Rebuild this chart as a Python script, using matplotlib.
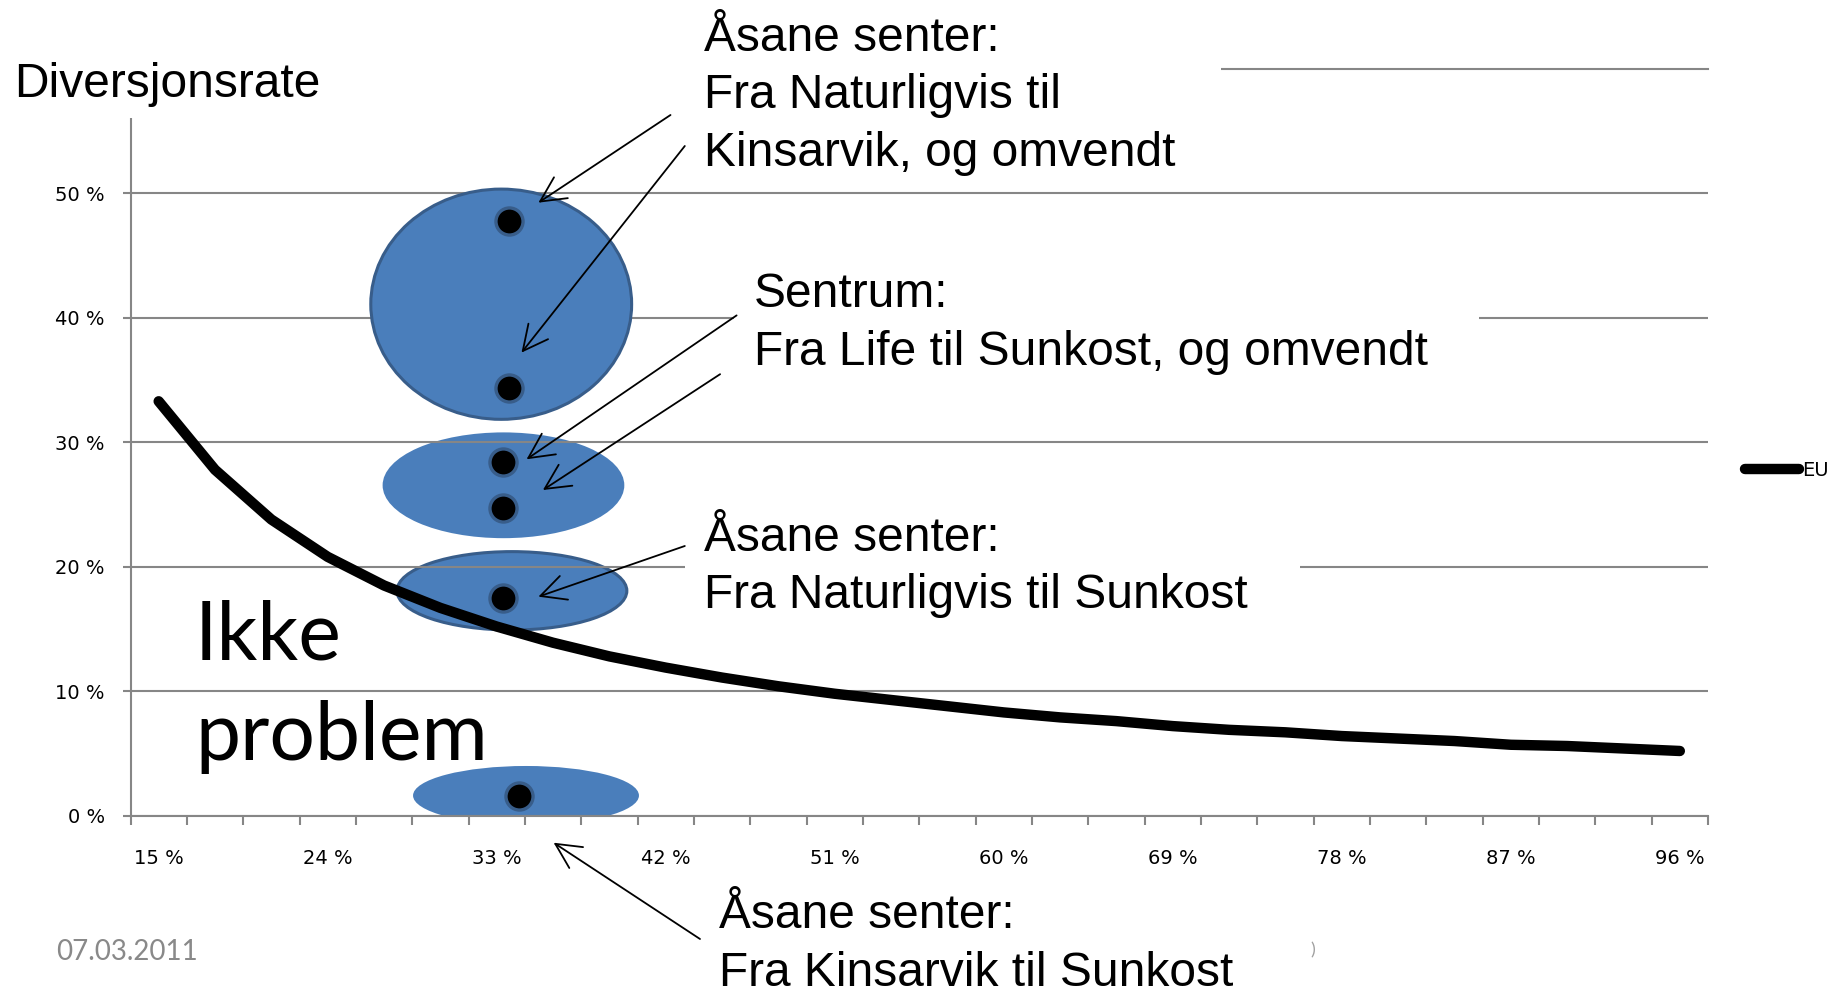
import matplotlib
matplotlib.use("Agg")
import matplotlib.pyplot as plt
from matplotlib.patches import Ellipse, Rectangle, FancyArrowPatch
import numpy as np

W, H = 1845, 988
DPI = 100

# category axis (every 3 percentage points)
categories = list(range(15, 97, 3))
eu_rate = [33.3, 27.8, 23.8, 20.8, 18.5, 16.7, 15.2, 13.9, 12.8, 11.9,
           11.1, 10.4, 9.8, 9.3, 8.8, 8.3, 7.9, 7.6, 7.2, 6.9,
           6.7, 6.4, 6.2, 6.0, 5.7, 5.6, 5.4, 5.2]
label_every = 3
y_ticks = [0, 10, 20, 30, 40, 50]
y_max = 60

# observed store pairs (category position, diversion rate %)
dot_x = [6.21, 6.22, 6.12, 6.12, 6.12, 6.40]
dot_y = [47.8, 34.4, 28.4, 24.75, 17.5, 1.6]

# highlight ellipses: (x centre, y centre %, width in categories, height %)
ellipses = [
    (6.08, 41.1, 4.63, 18.5),
    (6.12, 26.55, 4.29, 8.5),
    (6.27, 18.07, 4.08, 6.3),
    (6.52, 1.62, 4.01, 4.75),
]

fontsize_txt = 34.5
gray = '#868686'
blue = '#4a7ebb'
blue_edge = '#385d8a'


def fx(x):
    return x / W


def fy(y):
    return 1 - y / H


fig = plt.figure(figsize=(W / DPI, H / DPI), dpi=DPI)
ax = fig.add_axes([fx(130.5), fy(815.7), fx(1708) - fx(130.5), fy(69) - fy(815.7)])

xs = np.arange(len(categories))
line, = ax.plot(xs, eu_rate, color='black', linewidth=7.5, solid_capstyle='round',
                solid_joinstyle='round', zorder=2, label='EU')

ax.set_xlim(-0.5, len(categories) - 0.5)
ax.set_ylim(0, y_max)

ax.set_axisbelow(True)
ax.grid(axis='y', color=gray, linewidth=1.5)
ax.axhline(y_max, color=gray, linewidth=1.5, zorder=0.5, clip_on=False)
for s in ['top', 'right']:
    ax.spines[s].set_visible(False)
for s in ['left', 'bottom']:
    ax.spines[s].set_color(gray)
    ax.spines[s].set_linewidth(1.5)

ax.set_yticks(y_ticks)
ax.set_yticklabels([f'{v} %' for v in y_ticks], fontsize=14, family='DejaVu Sans')
ax.tick_params(axis='y', length=6, width=1.5, color=gray, pad=12.5)

ax.set_xticks(xs[::label_every])
ax.set_xticklabels([f'{c} %' for c in categories[::label_every]], fontsize=14, family='DejaVu Sans')
ax.set_xticks(np.arange(-0.5, len(categories), 1), minor=True)
ax.tick_params(axis='x', which='major', length=0, pad=24)
ax.tick_params(axis='x', which='minor', length=6.5, width=1.5, color=gray, direction='out')

for i, (cx, cy, ew, eh) in enumerate(ellipses):
    if i == 0:
        e = Ellipse((cx, cy), ew, eh, facecolor=blue, edgecolor=blue_edge, linewidth=2.2, zorder=3)
    elif i == 2:
        e = Ellipse((cx, cy), ew, eh, facecolor=blue, edgecolor=blue_edge, linewidth=2.2, zorder=0.2)
    else:
        e = Ellipse((cx, cy), ew, eh, facecolor=blue, edgecolor='none', zorder=0.2)
    ax.add_patch(e)

ax.scatter(dot_x, dot_y, s=19.5 ** 2, color='black', edgecolor=blue_edge, linewidth=2.4, zorder=4)

# white text boxes (slide shapes) hiding the gridlines
boxes = [(0, 0, 694, 118), (694, 0, 1221, 178), (734, 255, 1479, 400),
         (685, 505, 1300, 625), (700, 872, 1311, 988)]
for (x0, y0, x1, y1) in boxes:
    ax.add_patch(Rectangle((fx(x0), fy(y1)), fx(x1) - fx(x0), fy(y0) - fy(y1),
                           transform=fig.transFigure, facecolor='white', edgecolor='none',
                           zorder=5, clip_on=False))

texts = [
    ('Diversjonsrate', 14, 97),
    ('Åsane senter:', 704, 50.6),
    ('Fra Naturligvis til', 704, 108.3),
    ('Kinsarvik, og omvendt', 704, 166),
    ('Sentrum:', 754, 307),
    ('Fra Life til Sunkost, og omvendt', 754, 364.8),
    ('Åsane senter:', 704, 550.7),
    ('Fra Naturligvis til Sunkost', 704, 608.4),
    ('Åsane senter:', 719, 928.4),
    ('Fra Kinsarvik til Sunkost', 719, 986),
]
for (s, x, y) in texts:
    ax.text(fx(x), fy(y), s, transform=fig.transFigure, fontsize=fontsize_txt,
            family='Liberation Sans', va='baseline', ha='left', zorder=6)

ax.text(fx(195), fy(660), 'Ikke', transform=fig.transFigure, fontsize=58,
        family='Lato', va='baseline', ha='left', zorder=6)
ax.text(fx(195), fy(760), 'problem', transform=fig.transFigure, fontsize=58,
        family='Lato', va='baseline', ha='left', zorder=6)

ax.text(fx(56), fy(960), '07.03.2011', transform=fig.transFigure, fontsize=20,
        family='Lato', color='#898989', va='baseline', ha='left', zorder=6)
ax.text(fx(1310), fy(955), ')', transform=fig.transFigure, fontsize=13,
        family='Lato', color='#a0a0a0', va='baseline', ha='left', zorder=6)

# arrows: tail in slide pixels, head in data coords
arrows = [
    ((670.5, 115), (6.74, 49.26)),
    ((684.8, 146), (6.44, 37.21)),
    ((736.6, 315.4), (6.53, 28.64)),
    ((720.1, 374.2), (6.82, 26.17)),
    ((684.8, 546), (6.74, 17.60)),
    ((700, 939), (7.01, -2.17)),
]
for (tail, head) in arrows:
    tx, ty = fig.transFigure.transform((fx(tail[0]), fy(tail[1])))
    hx, hy = ax.transData.transform(head)
    arr = FancyArrowPatch((tx, ty), (hx, hy), transform=None,
                          arrowstyle='->,head_length=0.9,head_width=0.45',
                          mutation_scale=20, color='black', linewidth=1.3,
                          shrinkA=0, shrinkB=0, zorder=7, clip_on=False)
    ax.add_artist(arr)

leg = ax.legend(handles=[line], loc='center left', bbox_to_anchor=(fx(1745), fy(470.7)),
                bbox_transform=fig.transFigure, frameon=False, handlelength=2.8,
                handletextpad=0.15, borderpad=0, borderaxespad=0,
                prop={'family': 'DejaVu Sans', 'size': 14})

fig.savefig('out.png', dpi=DPI)
